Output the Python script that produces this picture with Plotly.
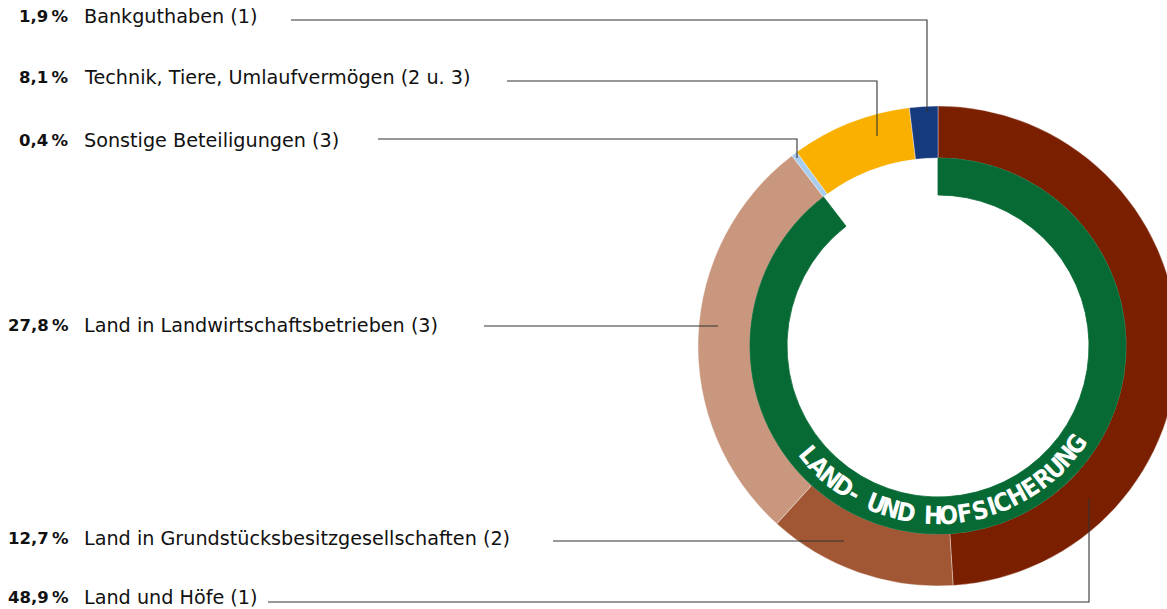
import plotly.graph_objects as go
import numpy as np

# ---------------- data ----------------
categories = [
    "Land und Höfe (1)",
    "Land in Grundstücksbesitzgesellschaften (2)",
    "Land in Landwirtschaftsbetrieben (3)",
    "Sonstige Beteiligungen (3)",
    "Technik, Tiere, Umlaufvermögen (2 u. 3)",
    "Bankguthaben (1)",
]
shares = [48.9, 12.7, 27.8, 0.4, 8.1, 1.9]
pct_labels = ["48,9\u2009%", "12,7\u2009%", "27,8\u2009%", "0,4\u2009%", "8,1\u2009%", "1,9\u2009%"]
in_land_group = [True, True, True, False, False, False]
group_label = "LAND- UND HOFSICHERUNG"

colors = ["#7A1F00", "#A15733", "#C9977E", "#A9CDEE", "#F9B000", "#163A7E"]
green = "#076A35"

# ---------------- geometry (pixels) ----------------
W, H = 1182, 609          # page is viewed through a 1167 px window, ring runs off the right edge
cx, cy, R_out = 938.0, 346.0, 240.0
R_mid_edge = 188.0
R_in_hole = 151.0


def dom(r):
    return dict(x=[max(0.0, (cx - r) / W), min(1.0, (cx + r) / W)],
                y=[max(0.0, (H - cy - r) / H), min(1.0, (H - cy + r) / H)])


fig = go.Figure()
fig.add_trace(go.Pie(
    values=shares, labels=categories, sort=False, direction="clockwise",
    rotation=0, hole=R_mid_edge / R_out, domain=dom(R_out),
    marker=dict(colors=colors, line=dict(color="rgba(255,255,255,0.6)", width=0.6)),
    textinfo="none", hoverinfo="label+percent", showlegend=False,
))
inner_colors = [green if g else "rgba(255,255,255,0)" for g in in_land_group]
fig.add_trace(go.Pie(
    values=shares, labels=categories, sort=False, direction="clockwise",
    rotation=0, hole=R_in_hole / R_mid_edge, domain=dom(R_mid_edge),
    marker=dict(colors=inner_colors,
                line=dict(color=[green if g else "rgba(255,255,255,0)" for g in in_land_group], width=0.8)),
    textinfo="none", hoverinfo="skip", showlegend=False,
))

annotations = []
shapes = []


def px2paper(x, y):
    return x / W, (H - y) / H


# left labels
label_y = {5: 17, 4: 78, 3: 140, 2: 325, 1: 538, 0: 597}
for i, cat in enumerate(categories):
    y = label_y[i]
    xp, yp = px2paper(71, y)
    annotations.append(dict(x=xp, y=yp, xref="paper", yref="paper", text="<b>" + pct_labels[i] + "</b>",
                            showarrow=False, xanchor="right", yanchor="middle",
                            font=dict(family="DejaVu Sans", size=16.5, color="#111")))
    xp, yp = px2paper(82, y)
    annotations.append(dict(x=xp, y=yp, xref="paper", yref="paper", text=cat,
                            showarrow=False, xanchor="left", yanchor="middle",
                            font=dict(family="DejaVu Sans", size=19.2, color="#111")))

# leader lines (start at the label side, end inside the slice they point to)
leaders = [
    (5, 291, 20, 927, 112),
    (4, 507, 81, 877, 136),
    (3, 378, 139, 797, 158),
    (2, 484, 326, 718, 326),
    (1, 553, 541, 844, 541),
    (0, 268, 602, 1089, 499),
]
for i, x0, y0, xe, ye in leaders:
    pts = [(x0, y0), (xe, y0)]
    if abs(ye - y0) > 1:
        pts.append((xe, ye))
    path = "M " + " L ".join(f"{a / W:.5f},{(H - b) / H:.5f}" for a, b in pts)
    shapes.append(dict(type="path", path=path, xref="paper", yref="paper",
                       line=dict(color="#333", width=1.1)))

# curved ring label
widths = {" ": 0.72, "-": 0.62, "I": 0.52}
w = np.array([widths.get(c, 1.0) for c in group_label])
centers = np.cumsum(w) - w / 2
a0, a1 = -50.0, 54.5
ang = a0 + (centers - centers[0]) / (centers[-1] - centers[0]) * (a1 - a0)
r_txt = 169.5
for ch, a in zip(group_label, ang):
    if ch == " ":
        continue
    rad = np.deg2rad(a)
    x = cx + r_txt * np.sin(rad)
    y = cy + r_txt * np.cos(rad)
    xp, yp = px2paper(x, y)
    annotations.append(dict(x=xp, y=yp, xref="paper", yref="paper", text="<b>" + ch + "</b>",
                            showarrow=False, xanchor="center", yanchor="middle",
                            textangle=-a,
                            font=dict(family="Liberation Sans Narrow, DejaVu Sans Condensed, sans-serif",
                                      size=25, color="white")))

fig.update_layout(
    width=W, height=H, margin=dict(l=0, r=0, t=0, b=0),
    paper_bgcolor="white", plot_bgcolor="white",
    annotations=annotations, shapes=shapes, showlegend=False,
)
fig.write_html("out.html", config={"displayModeBar": False},
               post_script="document.body.style.margin='0';document.body.style.overflow='hidden';")
